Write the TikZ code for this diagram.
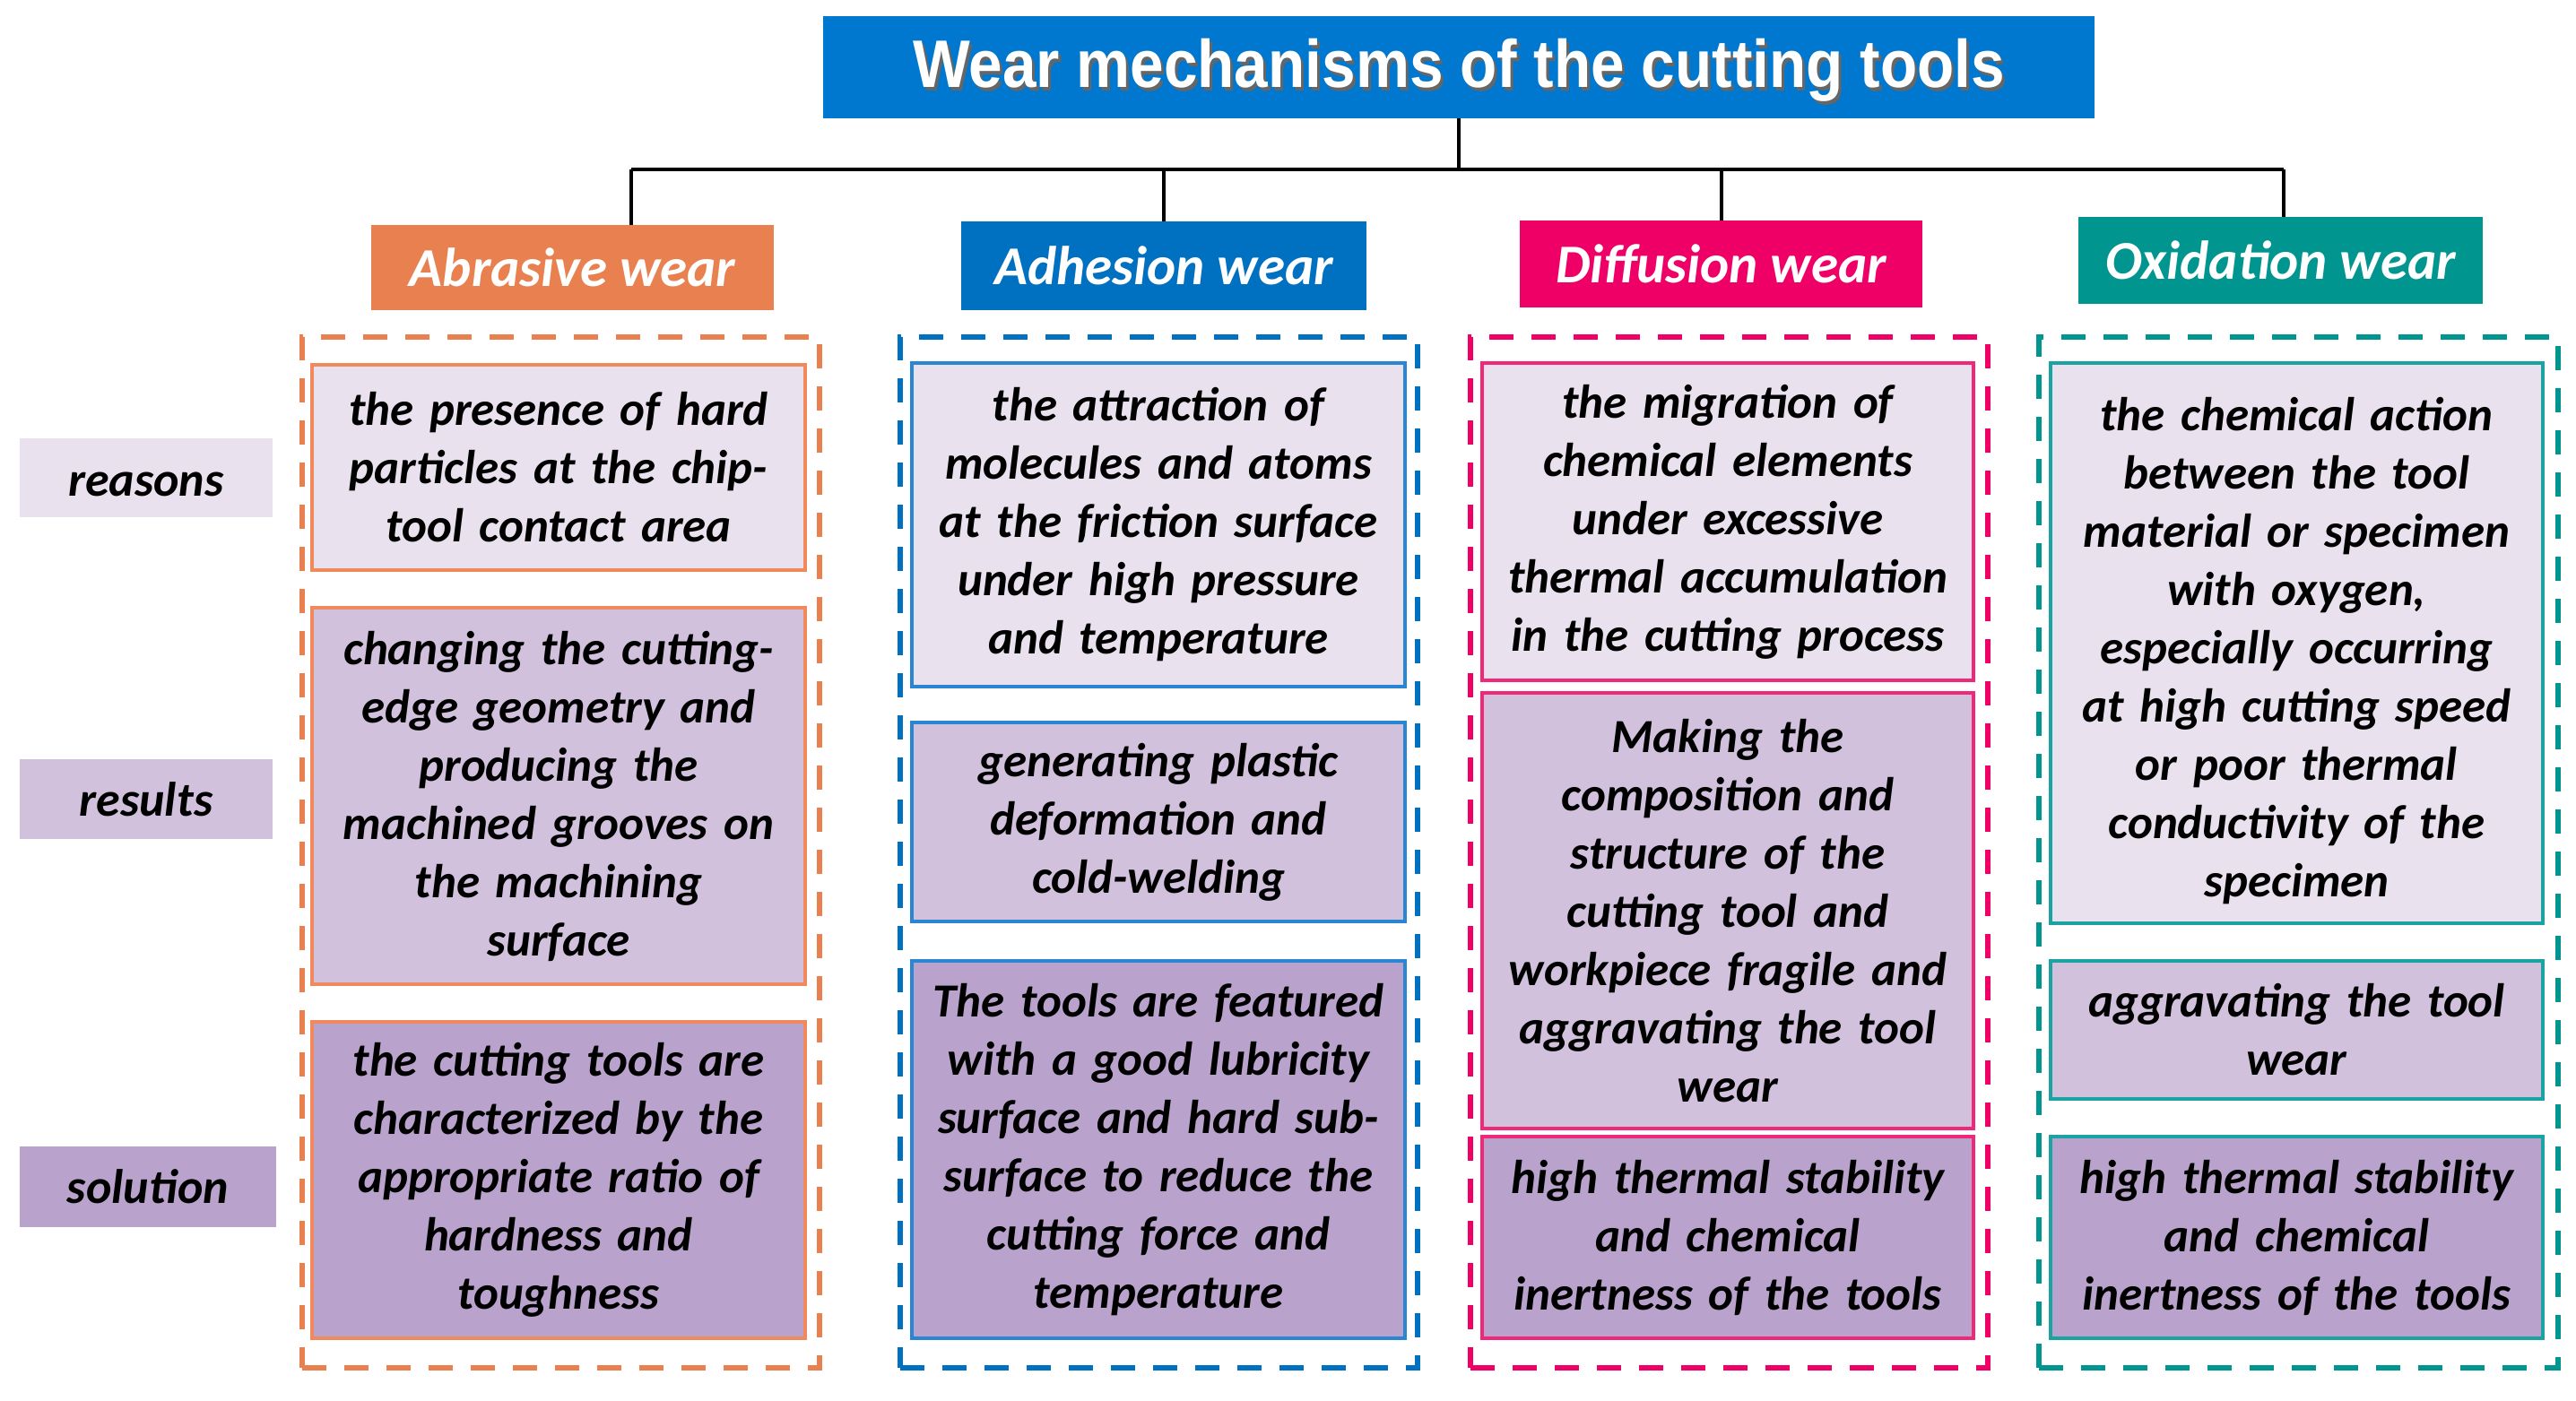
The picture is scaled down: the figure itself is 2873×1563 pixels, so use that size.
\documentclass[tikz,border=0pt]{standalone}
\usepackage{fontspec}
\setmainfont{Carlito}
\newfontfamily\titlefont{Liberation Sans}[FakeStretch=0.9]
\usetikzlibrary{positioning}
\definecolor{titleblue}{HTML}{0078D0}
\definecolor{abr}{HTML}{E8804F}
\definecolor{abrline}{HTML}{F08A5D}
\definecolor{adh}{HTML}{0070C0}
\definecolor{adhline}{HTML}{2A86D2}
\definecolor{dif}{HTML}{EE0066}
\definecolor{difline}{HTML}{F0287A}
\definecolor{oxi}{HTML}{00958F}
\definecolor{oxiline}{HTML}{1BA3A3}
\definecolor{tierA}{HTML}{E9E1EE}
\definecolor{tierB}{HTML}{D1C1DD}
\definecolor{tierC}{HTML}{B9A3CC}
\tikzset{
  body/.style={font=\fontsize{53}{65}\selectfont\bfseries\itshape, align=center, text=black, inner sep=0pt},
  inbox/.style={body, draw=#1, line width=4pt, text width=530pt},
  dashbox/.style={draw=#1, line width=6pt, dash pattern=on 27pt off 20pt, inner sep=0pt},
  header/.style={fill=#1, text=white, inner sep=0pt, font=\fontsize{61}{72}\selectfont\bfseries\itshape},
  sidelabel/.style={body, font=\fontsize{54}{64}\selectfont\bfseries\itshape},
  tree/.style={draw=black, line width=4pt},
}
\begin{document}
\begin{tikzpicture}[x=1pt,y=-1pt]
\useasboundingbox (0,0) rectangle (2873,1563);
\fill[white] (0,0) rectangle (2873,1563);
% title
\node[fill=titleblue, minimum width=1418pt, minimum height=114pt, inner sep=0pt] (title) at (1627,75) {};
\node[text=black!60, font=\titlefont\fontsize{75}{85}\selectfont\bfseries] at (1630,82) {Wear mechanisms of the cutting tools};
\node[text=white, font=\titlefont\fontsize{75}{85}\selectfont\bfseries] (titletext) at (1627,78) {Wear mechanisms of the cutting tools};
% headers
\node[header=abr, minimum width=449pt, minimum height=95pt] (hA) at (638.5,298.5) {Abrasive wear};
\node[header=adh, minimum width=452pt, minimum height=99pt] (hB) at (1298,296.5) {Adhesion wear};
\node[header=dif, minimum width=449pt, minimum height=97pt] (hC) at (1919.5,294.5) {Diffusion wear};
\node[header=oxi, minimum width=451pt, minimum height=97pt] (hD) at (2543.5,290.5) {Oxidation wear};
% tree connectors
\coordinate (bus) at (1627,189);
\coordinate (busL) at (704,189);
\coordinate (busR) at (2547,189);
\coordinate (tA) at (704,251);
\draw[tree] (title.south) -- (bus);
\draw[tree] (busL) -- (busR);
\draw[tree] (busL) -- (tA);
\draw[tree] (hB.north |- bus) -- (hB.north);
\draw[tree] (hC.north |- bus) -- (hC.north);
\draw[tree] (busR) -- (busR |- hD.north);
% dashed containers
\node[dashbox=abr, minimum width=577pt, minimum height=1150pt] (cA) at (625.5,951) {};
\node[dashbox=adh, minimum width=577pt, minimum height=1150pt] (cB) at (1292.5,951) {};
\node[dashbox=dif, minimum width=577pt, minimum height=1150pt] (cC) at (1928.5,951) {};
\node[dashbox=oxi, minimum width=579pt, minimum height=1150pt] (cD) at (2563.5,951) {};
% side labels
\node[sidelabel, fill=tierA, minimum width=282pt, minimum height=88pt,
      label={[sidelabel, yshift=-7pt]center:reasons}] (lR) at (163,533) {};
\node[sidelabel, fill=tierB, minimum width=282pt, minimum height=89pt] (lS) at (163,891.5) {results};
\node[sidelabel, fill=tierC, minimum width=286pt, minimum height=90pt] (lT) at (165,1324) {solution};
% abrasive
\node[inbox=abrline, fill=tierA, minimum width=550pt, minimum height=229pt] (aR) at (623,521.5) {the presence of hard\\particles at the chip-\\tool contact area};
\node[inbox=abrline, fill=tierB, minimum width=550pt, minimum height=420pt] (aS) at (623,888) {changing the cutting-\\edge geometry and\\producing the\\machined grooves on\\the machining\\surface};
\node[inbox=abrline, fill=tierC, minimum width=550pt, minimum height=353pt] (aT) at (623,1316.5) {the cutting tools are\\characterized by the\\appropriate ratio of\\hardness and\\toughness};
% adhesion
\node[inbox=adhline, fill=tierA, minimum width=550pt, minimum height=361pt] (bR) at (1292,585.5) {the attraction of\\molecules and atoms\\at the friction surface\\under high pressure\\and temperature};
\node[inbox=adhline, fill=tierB, minimum width=550pt, minimum height=222pt] (bS) at (1292,917) {generating plastic\\deformation and\\cold-welding};
\node[inbox=adhline, fill=tierC, minimum width=550pt, minimum height=421pt] (bT) at (1292,1282.5) {The tools are featured\\with a good lubricity\\surface and hard sub-\\surface to reduce the\\cutting force and\\temperature};
% diffusion
\node[inbox=difline, fill=tierA, minimum width=548pt, minimum height=354pt] (cR) at (1927,582) {the migration of\\chemical elements\\under excessive\\thermal accumulation\\in the cutting process};
\node[inbox=difline, fill=tierB, minimum width=548pt, minimum height=486pt] (cS) at (1927,1016) {Making the\\composition and\\structure of the\\cutting tool and\\workpiece fragile and\\aggravating the tool\\wear};
\node[inbox=difline, fill=tierC, minimum width=548pt, minimum height=225pt] (cT) at (1927,1380.5) {high thermal stability\\and chemical\\inertness of the tools};
% oxidation
\node[inbox=oxiline, fill=tierA, minimum width=549pt, minimum height=625pt,
      label={[body, text width=530pt, yshift=-9pt]center:{the chemical action\\between the tool\\material or specimen\\with oxygen,\\especially occurring\\at high cutting speed\\or poor thermal\\conductivity of the\\specimen}}] (dR) at (2561.5,717.5) {};
\node[inbox=oxiline, fill=tierB, minimum width=549pt, minimum height=154pt] (dS) at (2561.5,1149) {aggravating the tool\\wear};
\node[inbox=oxiline, fill=tierC, minimum width=549pt, minimum height=225pt] (dT) at (2561.5,1380.5) {high thermal stability\\and chemical\\inertness of the tools};
\end{tikzpicture}
\end{document}
